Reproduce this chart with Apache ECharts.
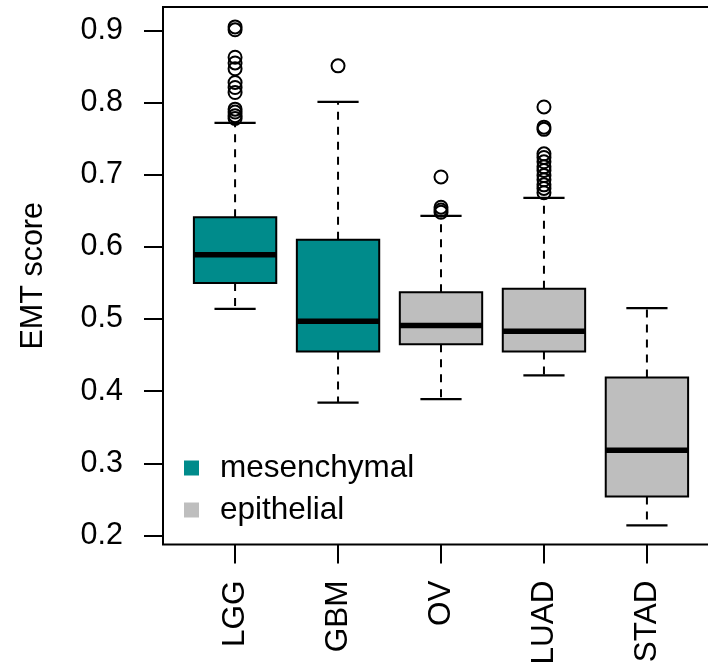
<!DOCTYPE html>
<html>
<head>
<meta charset="utf-8">
<script src="https://cdn.jsdelivr.net/npm/echarts@6/dist/echarts.min.js"></script>
<style>
html,body{margin:0;padding:0;background:#fff;}
#chart{width:708px;height:666px;}
</style>
</head>
<body>
<div id="chart"></div>
<script>
// ---- data ----
const categories = ['LGG', 'GBM', 'OV', 'LUAD', 'STAD'];
const groupOf = ['mesenchymal', 'mesenchymal', 'epithelial', 'epithelial', 'epithelial'];
const lowWhisker  = [0.514, 0.384, 0.389, 0.422, 0.214];
const q1          = [0.550, 0.455, 0.465, 0.455, 0.254];
const median      = [0.589, 0.497, 0.491, 0.483, 0.318];
const q3          = [0.641, 0.610, 0.537, 0.542, 0.419];
const highWhisker = [0.772, 0.801, 0.643, 0.668, 0.515];
const outLGG  = [0.905, 0.901, 0.863, 0.855, 0.847, 0.828, 0.821, 0.814, 0.791, 0.787, 0.782, 0.778];
const outGBM  = [0.851];
const outOV   = [0.697, 0.655, 0.651, 0.648];
const outLUAD = [0.794, 0.766, 0.763, 0.729, 0.724, 0.718, 0.711, 0.706, 0.699, 0.693, 0.686, 0.681, 0.675];
const outSTAD = [];
const yTicks = [0.2, 0.3, 0.4, 0.5, 0.6, 0.7, 0.8, 0.9];
const groupNames = ['mesenchymal', 'epithelial'];
const groupColors = ['#008B8B', '#BEBEBE'];

const FONT = 'Liberation Sans, Arial, Helvetica, sans-serif';
const outliers = [outLGG, outGBM, outOV, outLUAD, outSTAD];
const xPositions = categories.map((c, i) => i + 1);

function boxData(group) {
  const d = [];
  categories.forEach((c, i) => {
    if (groupOf[i] === group) {
      d.push([xPositions[i], lowWhisker[i], q1[i], median[i], q3[i], highWhisker[i]]);
    }
  });
  return d;
}
const outlierData = [];
outliers.forEach((arr, i) => arr.forEach(v => outlierData.push([xPositions[i], v])));

function renderBox(params, api) {
  const x = api.value(0);
  const lo = api.coord([x, api.value(1)]);
  const b1 = api.coord([x, api.value(2)]);
  const md = api.coord([x, api.value(3)]);
  const b3 = api.coord([x, api.value(4)]);
  const hi = api.coord([x, api.value(5)]);
  const halfBox = api.size([0.4, 0])[0];
  const halfStaple = api.size([0.2, 0])[0];
  const cx = lo[0];
  const color = api.visual('color');
  const dashStyle = {stroke: '#000', lineWidth: 2, lineDash: [8, 7], fill: null};
  const solid = {stroke: '#000', lineWidth: 2.2, fill: null};
  return {
    type: 'group',
    children: [
      {type: 'line', shape: {x1: cx, y1: b3[1], x2: cx, y2: hi[1]}, style: dashStyle},
      {type: 'line', shape: {x1: cx, y1: b1[1], x2: cx, y2: lo[1]}, style: dashStyle},
      {type: 'line', shape: {x1: cx - halfStaple, y1: hi[1], x2: cx + halfStaple, y2: hi[1]}, style: solid},
      {type: 'line', shape: {x1: cx - halfStaple, y1: lo[1], x2: cx + halfStaple, y2: lo[1]}, style: solid},
      {type: 'rect', shape: {x: cx - halfBox, y: b3[1], width: 2 * halfBox, height: b1[1] - b3[1]},
        style: {fill: color, stroke: '#000', lineWidth: 2}},
      {type: 'line', shape: {x1: cx - halfBox, y1: md[1], x2: cx + halfBox, y2: md[1]},
        style: {stroke: '#000', lineWidth: 5.5}}
    ]
  };
}

const chart = echarts.init(document.getElementById('chart'), null, {renderer: 'canvas'});
const option = {
  animation: false,
  backgroundColor: '#fff',
  grid: {left: 163, width: 556, top: 7, bottom: 121.5, show: true, borderColor: '#000', borderWidth: 2,
    backgroundColor: 'transparent', outerBoundsMode: 'none', containLabel: false},
  xAxis: {
    type: 'value', min: 0.3, max: 5.7,
    splitLine: {show: false},
    axisLine: {show: false},
    axisTick: {show: true, customValues: xPositions, length: 19, lineStyle: {color: '#000', width: 2}},
    axisLabel: {show: true, customValues: xPositions, rotate: 90, margin: 36,
      formatter: v => categories[Math.round(v) - 1] || '',
      fontSize: 31.5, fontFamily: FONT, color: '#000'}
  },
  yAxis: {
    type: 'value', min: 0.1874, max: 0.9326,
    name: 'EMT score', nameLocation: 'middle', nameGap: 114,
    nameTextStyle: {fontSize: 30.5, fontFamily: FONT, color: '#000'},
    splitLine: {show: false},
    axisLine: {show: false},
    axisTick: {show: true, customValues: yTicks, length: 19, lineStyle: {color: '#000', width: 2}},
    axisLabel: {show: true, customValues: yTicks, margin: 40,
      formatter: v => v.toFixed(1),
      fontSize: 30.5, fontFamily: FONT, color: '#000'}
  },
  legend: {
    orient: 'vertical', left: 184, top: 452, padding: 0,
    itemWidth: 15, itemHeight: 15, itemGap: 10, icon: 'rect',
    textStyle: {fontSize: 31.5, fontFamily: FONT, color: '#000', padding: [0, 0, 0, 16]},
    data: groupNames.map((n, i) => ({name: n, itemStyle: {color: groupColors[i], borderWidth: 0}}))
  },
  series: groupNames.map((n, i) => ({
    name: n, type: 'custom', renderItem: renderBox,
    itemStyle: {color: groupColors[i]},
    encode: {x: 0, y: [1, 2, 3, 4, 5]},
    data: boxData(n), z: 2
  })).concat([{
    name: 'outliers', type: 'scatter', symbol: 'circle', symbolSize: 13,
    itemStyle: {color: 'rgba(0,0,0,0)', borderColor: '#000', borderWidth: 2, opacity: 1},
    data: outlierData, z: 3, silent: true
  }])
};
chart.setOption(option);
</script>
</body>
</html>
